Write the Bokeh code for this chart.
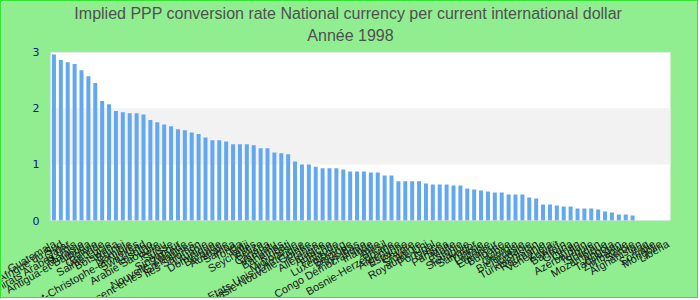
from bokeh.plotting import figure
from bokeh.models import ColumnDataSource, BoxAnnotation, Range1d
from bokeh.core.properties import value
from bokeh.embed import file_html
from bokeh.resources import INLINE

countries = [
    "Guatemala", "Afrique du Sud", "Qatar", "Emirats Arabes Unis", "Malaisie",
    "Antigua-et-Barbuda", "Bolivie", "Grenade", "Sainte-Lucie", "Botswana",
    "Brunei", "Namibie", "Saint-Christophe-et-Niévès", "Swaziland", "Lesotho",
    "Arabie Saoudite", "Pérou", "Suisse", "Singapour", "Nouvelle-Zélande",
    "Saint-Vincent-et-les Grenadines", "Iles Salomon", "Lituanie", "Dominique", "Barbade",
    "Australie", "Samoa", "Tonga", "Fidji", "Seychelles",
    "Belize", "Canada", "Vanuatu", "Bahamas", "Kiribati",
    "Micronésie", "Etats-Unis d'Amérique", "Papouasie-Nouvelle-Guinée", "France", "Allemagne",
    "Autriche", "Finlande", "Luxembourg", "Belgique", "Pays-Bas",
    "Congo Démocratique", "Irlande", "Italie", "Brésil", "Bosnie-Herzégovine",
    "Argentine", "Espagne", "Chypre", "Slovénie", "Royaume-Uni",
    "Portugal", "Grèce", "Panama", "Malte", "Estonie",
    "Slovaquie", "Salvador", "Tunisie", "Lettonie", "Equateur",
    "Bulgarie", "Libye", "Géorgie", "Biélorussie", "Jordanie",
    "Turkménistan", "Roumanie", "Venezuela", "Koweït", "Bahreïn",
    "Ghana", "Oman", "Azerbaïdjan", "Turquie", "Soudan",
    "Mozambique", "Angola", "Tadjikistan", "Zimbabwe", "Serbie",
    "Afghanistan", "Iraq", "Somalie", "Mongolie", "Liberia",
]

values = [
    2.96, 2.86, 2.82, 2.79, 2.68,
    2.57, 2.45, 2.13, 2.07, 1.95,
    1.93, 1.91, 1.91, 1.89, 1.79,
    1.75, 1.71, 1.68, 1.625, 1.61,
    1.57, 1.54, 1.48, 1.43, 1.43,
    1.41, 1.36, 1.36, 1.36, 1.34,
    1.29, 1.29, 1.21, 1.20, 1.18,
    1.05, 1.00, 1.00, 0.96, 0.93,
    0.93, 0.93, 0.91, 0.875, 0.875,
    0.875, 0.857, 0.857, 0.80, 0.80,
    0.70, 0.70, 0.70, 0.70, 0.66,
    0.643, 0.643, 0.643, 0.625, 0.625,
    0.571, 0.554, 0.536, 0.518, 0.50,
    0.50, 0.464, 0.464, 0.464, 0.41,
    0.393, 0.286, 0.286, 0.268, 0.25,
    0.25, 0.214, 0.214, 0.214, 0.196,
    0.161, 0.143, 0.107, 0.107, 0.089,
    0.0, 0.0, 0.0, 0.0, 0.0,
]

y_ticks = [0, 1, 2, 3]
y_tick_labels = ["0", "1", "2", "3"]
title_1 = "Implied PPP conversion rate  National currency per current international dollar"
title_2 = "Année 1998"

# ---- layout constants (pixels inside the 698x298 canvas) ----
W, H = 698, 298
PLOT_L, PLOT_R = 49, 669      # plot area left / right
PLOT_T, PLOT_B = 50.7, 219    # plot area top / bottom
n = len(countries)
y_max = y_ticks[-1]
px_x = (PLOT_R - PLOT_L) / n
px_y = (PLOT_B - PLOT_T) / y_max

x_range = Range1d(-PLOT_L / px_x, n + (W - PLOT_R) / px_x)
y_range = Range1d(-(H - PLOT_B) / px_y, y_max + PLOT_T / px_y)
x_center = (W / 2 - PLOT_L) / px_x   # horizontal centre of the whole image

cat_x = [i + 0.5 for i in range(n)]
src = ColumnDataSource(dict(x=cat_x, country=countries, value=values, base=[0] * n))

p = figure(
    width=W, height=H, x_range=x_range, y_range=y_range,
    output_backend="svg", toolbar_location=None, title=None,
    min_border=0, min_border_left=0, min_border_right=0,
    min_border_top=0, min_border_bottom=0,
)
p.styles = {"border": "1px solid #22ee22"}
p.border_fill_color = "#90ee90"
p.background_fill_color = "#90ee90"
p.outline_line_color = None
p.axis.visible = False
p.grid.visible = False

# plot area (white), alternate band, outline
p.add_layout(BoxAnnotation(left=0, right=n, bottom=0, top=y_max, fill_color="white",
                           fill_alpha=1, line_color=None, level="underlay"))
p.add_layout(BoxAnnotation(left=0, right=n, bottom=y_ticks[1], top=y_ticks[2],
                           fill_color="#f2f2f2", fill_alpha=1, line_color=None,
                           level="underlay"))
p.add_layout(BoxAnnotation(left=0, right=n, bottom=0, top=y_max, fill_color=None,
                           line_color="#d6d6d6", line_width=1.5, level="overlay"))

p.vbar(x="x", top="value", bottom=0, width=0.58, source=src,
       fill_color="#62a8f0", line_color=None)

# category labels
p.text(x="x", y="base", text="country", source=src,
       angle=0.5236, text_align="right", text_baseline="top",
       x_offset=-2, y_offset=17,
       text_font=value("Liberation Sans"), text_font_size=value("11px"),
       text_color="#1a1a1a")

# y tick labels
p.text(x=[0] * len(y_ticks), y=y_ticks, text=y_tick_labels,
       x_offset=-11, text_align="right", text_baseline="middle",
       text_font=value("DejaVu Sans"), text_font_size=value("11px"),
       text_color="#10108a")

# titles
p.text(x=[x_center], y=[y_max], text=[title_1], y_offset=-38.5,
       text_align="center", text_baseline="middle",
       text_font=value("Liberation Sans"),
       text_font_size=value("16px"), text_color="#505050")
p.text(x=[x_center], y=[y_max], text=[title_2], y_offset=-16.5,
       text_align="center", text_baseline="middle",
       text_font=value("Liberation Sans"),
       text_font_size=value("16px"), text_color="#505050")

open("out.html", "w").write(file_html(p, INLINE))
